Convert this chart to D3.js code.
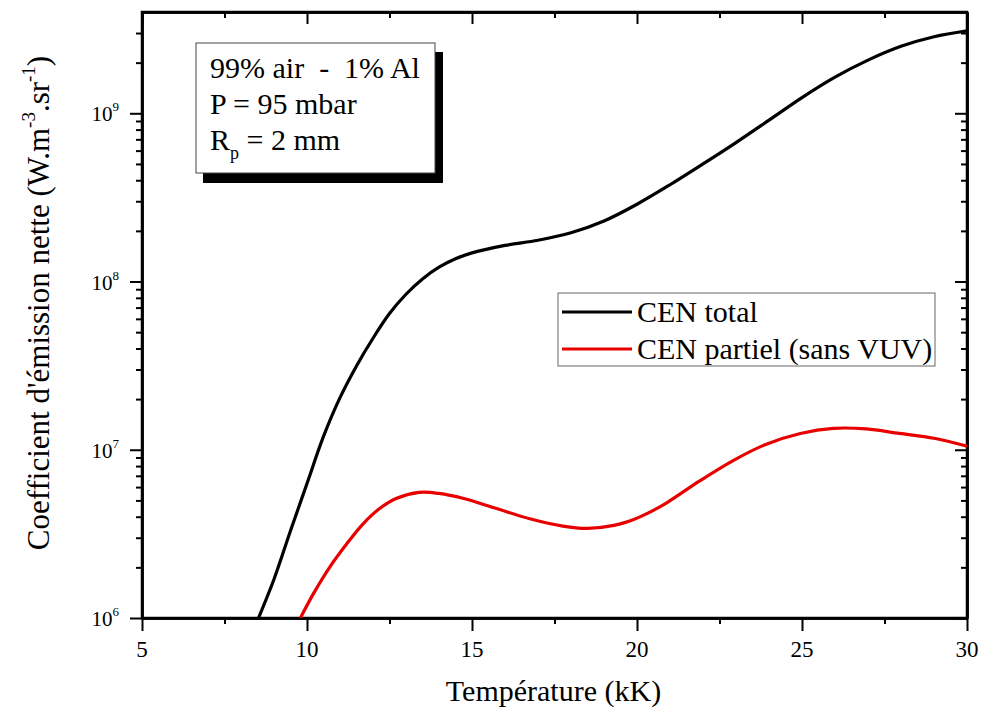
<!DOCTYPE html>
<html>
<head>
<meta charset="utf-8">
<script src="https://cdn.jsdelivr.net/npm/d3@7"></script>
<style>
  html, body { margin: 0; padding: 0; background: #fff; }
  svg { display: block; }
</style>
</head>
<body>
<svg id="chart" width="982" height="712"></svg>
<script>
// ---------- data ----------
const totalT = [8.53, 9.0, 9.5, 10.0, 10.5, 11.0, 11.5, 12.0, 12.5, 13.0, 13.5, 14.0, 14.5, 15.0, 16.0, 17.0, 18.0, 19.0, 20.0, 21.0, 22.0, 23.0, 24.0, 25.0, 26.0, 27.0, 28.0, 29.0, 30.0];
const totalCEN = [1.0e6, 1.7e6, 3.3e6, 6.3e6, 1.2e7, 2.04e7, 3.15e7, 4.6e7, 6.45e7, 8.4e7, 1.035e8, 1.216e8, 1.365e8, 1.48e8, 1.64e8, 1.76e8, 1.95e8, 2.29e8, 2.88e8, 3.76e8, 5.0e8, 6.7e8, 9.1e8, 1.24e9, 1.64e9, 2.07e9, 2.5e9, 2.85e9, 3.09e9];
const partialT = [9.8, 10.2, 10.7, 11.2, 11.7, 12.2, 12.7, 13.4, 14.0, 14.75, 15.75, 16.75, 17.75, 18.5, 19.3, 19.9, 20.3, 20.9, 21.9, 22.9, 23.9, 24.95, 25.95, 26.95, 27.95, 29.0, 30.0];
const partialCEN = [1.0e6, 1.4e6, 2.02e6, 2.75e6, 3.63e6, 4.47e6, 5.13e6, 5.58e6, 5.5e6, 5.13e6, 4.47e6, 3.89e6, 3.52e6, 3.41e6, 3.55e6, 3.85e6, 4.17e6, 4.84e6, 6.53e6, 8.6e6, 1.076e7, 1.25e7, 1.34e7, 1.33e7, 1.25e7, 1.17e7, 1.05e7];
const seriesNames = ["CEN total", "CEN partiel (sans VUV)"];
const seriesColors = ["#000000", "#e80000"];
const xMajorTicks = [5, 10, 15, 20, 25, 30];
const xMinorTicks = [7.5, 12.5, 17.5, 22.5, 27.5];
const yMajorTicks = [1e6, 1e7, 1e8, 1e9];
const yMajorExponents = ["6", "7", "8", "9"];
const yMinorTicks = [2e6,3e6,4e6,5e6,6e6,7e6,8e6,9e6, 2e7,3e7,4e7,5e7,6e7,7e7,8e7,9e7, 2e8,3e8,4e8,5e8,6e8,7e8,8e8,9e8, 2e9,3e9];
const infoLines = ["99% air  -  1% Al", "P = 95 mbar"];

// ---------- layout ----------
const FONT = "'Liberation Serif', 'Times New Roman', Tinos, 'DejaVu Serif', serif";
const L = 142, R = 967, T = 12, B = 618;
const svg = d3.select("#chart");
const x = d3.scaleLinear().domain([5, 30]).range([L, R]);
const y = d3.scaleLog().domain([1e6, 4e9]).range([B, T]);

svg.append("defs").append("clipPath").attr("id", "clip")
  .append("rect").attr("x", L).attr("y", T).attr("width", R - L).attr("height", B - T);

// ---------- axes ----------
function styleAxis(g) {
  g.selectAll("path").attr("stroke", "#000").attr("stroke-width", 2.5);
  g.selectAll("line").attr("stroke", "#000").attr("stroke-width", 2);
  g.selectAll("text").remove();
}
svg.append("g").attr("transform", `translate(0,${B})`)
  .call(d3.axisBottom(x).tickValues(xMajorTicks).tickSize(13).tickSizeOuter(0).tickFormat(""))
  .call(styleAxis);
svg.append("g").attr("transform", `translate(0,${B})`)
  .call(d3.axisBottom(x).tickValues(xMinorTicks).tickSize(6).tickSizeOuter(0).tickFormat(""))
  .call(styleAxis);
svg.append("g").attr("transform", `translate(0,${T})`)
  .call(d3.axisBottom(x).tickValues(xMajorTicks).tickSize(12).tickSizeOuter(0).tickFormat(""))
  .call(styleAxis);
svg.append("g").attr("transform", `translate(0,${T})`)
  .call(d3.axisBottom(x).tickValues(xMinorTicks).tickSize(6).tickSizeOuter(0).tickFormat(""))
  .call(styleAxis);
svg.append("g").attr("transform", `translate(${L},0)`)
  .call(d3.axisLeft(y).tickValues(yMajorTicks).tickSize(12).tickSizeOuter(0).tickFormat(""))
  .call(styleAxis);
svg.append("g").attr("transform", `translate(${L},0)`)
  .call(d3.axisLeft(y).tickValues(yMinorTicks).tickSize(6).tickSizeOuter(0).tickFormat(""))
  .call(styleAxis);
svg.append("g").attr("transform", `translate(${R},0)`)
  .call(d3.axisLeft(y).tickValues(yMajorTicks).tickSize(12).tickSizeOuter(0).tickFormat(""))
  .call(styleAxis);
svg.append("g").attr("transform", `translate(${R},0)`)
  .call(d3.axisLeft(y).tickValues(yMinorTicks).tickSize(6).tickSizeOuter(0).tickFormat(""))
  .call(styleAxis);

svg.append("rect").attr("x", L).attr("y", T).attr("width", R - L).attr("height", B - T)
  .attr("fill", "none").attr("stroke", "#000").attr("stroke-width", 2.5);

// tick labels
svg.append("g").selectAll("text").data(xMajorTicks).join("text")
  .attr("x", d => x(d)).attr("y", B + 39)
  .attr("text-anchor", "middle").attr("font-size", 23).attr("font-family", FONT)
  .text(d => d);

const yl = svg.append("g").selectAll("text").data(yMajorTicks).join("text")
  .attr("x", 119).attr("y", d => y(d) + 8)
  .attr("text-anchor", "end").attr("font-size", 21).attr("font-family", FONT);
yl.append("tspan").text("10");
yl.append("tspan").attr("dy", -10).attr("font-size", 13).text((d, i) => yMajorExponents[i]);

// axis titles
svg.append("text").attr("x", (L + R) / 2 - 1).attr("y", 701)
  .attr("text-anchor", "middle").attr("font-size", 30).attr("font-family", FONT)
  .text("Température (kK)");

const yt = svg.append("text").attr("transform", "translate(49,303) rotate(-90)")
  .attr("text-anchor", "middle").attr("font-size", 31).attr("font-family", FONT);
yt.append("tspan").text("Coefficient d'émission nette (W.m");
yt.append("tspan").attr("dy", -14).attr("font-size", 19).text("-3");
yt.append("tspan").attr("dy", 14).text(".sr");
yt.append("tspan").attr("dy", -14).attr("font-size", 19).text("-1");
yt.append("tspan").attr("dy", 14).text(")");

// ---------- lines ----------
const line = d3.line().x(d => x(d[0])).y(d => y(d[1])).curve(d3.curveCatmullRom.alpha(0.5));
const series = [d3.zip(totalT, totalCEN), d3.zip(partialT, partialCEN)];
svg.append("g").attr("clip-path", "url(#clip)")
  .selectAll("path").data(series).join("path")
  .attr("d", line).attr("fill", "none")
  .attr("stroke", (d, i) => seriesColors[i]).attr("stroke-width", 3.2)
  .attr("stroke-linejoin", "round");

// ---------- info box ----------
const box = svg.append("g").attr("font-family", FONT);
box.append("rect").attr("x", 203).attr("y", 52).attr("width", 240).attr("height", 131).attr("fill", "#000");
box.append("rect").attr("x", 196).attr("y", 43).attr("width", 239).attr("height", 130)
  .attr("fill", "#fff").attr("stroke", "#444").attr("stroke-width", 1);
box.selectAll("text.info").data(infoLines).join("text").attr("class", "info")
  .attr("x", 210).attr("y", (d, i) => 78 + i * 36)
  .attr("font-size", 30).attr("font-family", FONT).style("white-space", "pre")
  .text(d => d);
const rp = box.append("text").attr("x", 210).attr("y", 150).attr("font-size", 30).attr("font-family", FONT);
rp.append("tspan").text("R");
rp.append("tspan").attr("dy", 9).attr("font-size", 18).text("p");
rp.append("tspan").attr("dy", -9).text(" = 2 mm");

// ---------- legend ----------
const leg = svg.append("g");
leg.append("rect").attr("x", 558).attr("y", 293).attr("width", 377).attr("height", 73)
  .attr("fill", "#fff").attr("stroke", "#666").attr("stroke-width", 1);
seriesNames.forEach((name, i) => {
  const yy = 312 + i * 37;
  leg.append("line").attr("x1", 562).attr("x2", 632).attr("y1", yy).attr("y2", yy)
    .attr("stroke", seriesColors[i]).attr("stroke-width", 3.2);
  leg.append("text").attr("x", 637).attr("y", yy + 10).attr("font-size", 30)
    .attr("font-family", FONT).text(name);
});
</script>
</body>
</html>
